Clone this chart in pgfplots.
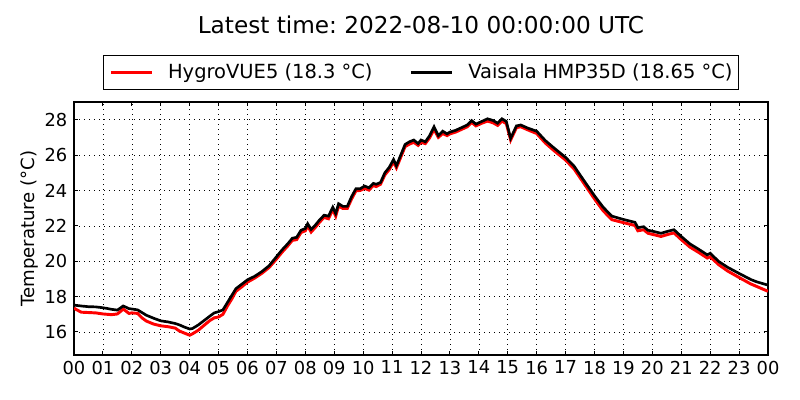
\documentclass[border=0pt]{standalone}
\usepackage{fontspec}
\setmainfont{DejaVu Sans}
\usepackage{pgfplots}
\pgfplotsset{compat=1.18}
\frenchspacing
\begin{document}
\begin{tikzpicture}
\useasboundingbox (0,0) rectangle (600pt,300pt);
\begin{axis}[
  at={(55.5pt,33.75pt)}, anchor=south west,
  width=520.5pt, height=189.75pt, scale only axis,
  xmin=0, xmax=24, ymin=14.7, ymax=29,
  xtick={0,1,...,24},
  xticklabels={00,01,02,03,04,05,06,07,08,09,10,11,12,13,14,15,16,17,18,19,20,21,22,23,00},
  ytick={16,18,20,22,24,26,28},
  /pgf/number format/assume math mode=true,
  tick label style={font=\fontsize{13.4}{16}\selectfont},
  yticklabel style={xshift=-1.5pt},
  xticklabel style={yshift=-0.8pt},
  tick align=inside, major tick length=3.2pt,
  tick style={black, line width=0.75pt},
  axis line style={line width=0.9pt},
  grid=major,
  major grid style={black, line width=0.45pt, dash pattern=on 0.9pt off 2.85pt},
  title={Latest time: 2022-08-10 00:00:00 UTC},
  title style={at={(0.5,1)}, anchor=base, yshift=45.2pt, font=\fontsize{17.4}{20}\selectfont\frenchspacing},
  ylabel={Temperature (°C)},
  ylabel style={at={(axis description cs:-0.0576,0.5)}, anchor=base, font=\fontsize{13.6}{16}\selectfont},
  legend columns=2,
  legend style={at={(0.5,1)}, anchor=south, yshift=9pt, draw=black, line width=0.75pt,
    font=\fontsize{14.6}{17}\selectfont, inner xsep=4.5pt, inner ysep=2.5pt,
    nodes={inner xsep=0pt, inner ysep=4.1pt},
    /tikz/every odd column/.append style={column sep=11.25pt},
    /tikz/every even column/.append style={column sep=27.75pt}},
  legend image code/.code={\draw[#1, line width=2pt] (0pt,0pt) -- (30.75pt,0pt);},
]
\addplot[red, line width=2.2pt] coordinates {
(0,17.35) (0.1,17.25) (0.25,17.12) (0.5,17.10) (0.75,17.08) (1.0,17.02) (1.15,17.00) (1.3,16.98) (1.5,17.02) (1.6,17.15) (1.7,17.30) (1.8,17.18) (1.9,17.05) (2.0,17.08) (2.2,17.05) (2.35,16.80) (2.5,16.62) (2.75,16.45) (3.0,16.35) (3.25,16.30) (3.5,16.22) (3.65,16.05) (3.8,15.95) (4.0,15.82) (4.1,15.90) (4.3,16.10) (4.5,16.38) (4.7,16.65) (4.85,16.80) (5.0,16.85) (5.15,17.00) (5.3,17.45) (5.45,17.85) (5.6,18.30) (5.8,18.55) (6.0,18.82) (6.25,19.05) (6.5,19.32) (6.75,19.65) (7.0,20.12) (7.2,20.52) (7.4,20.88) (7.55,21.18) (7.7,21.22) (7.85,21.62) (8.0,21.72) (8.08,22.00) (8.2,21.65) (8.35,21.92) (8.5,22.22) (8.65,22.48) (8.8,22.40) (8.95,22.92) (9.05,22.55) (9.15,23.12) (9.3,22.98) (9.45,22.98) (9.6,23.52) (9.75,23.98) (9.9,24.00) (10.05,24.12) (10.2,24.02) (10.35,24.28) (10.45,24.22) (10.6,24.35) (10.75,24.88) (10.9,25.18) (11.05,25.62) (11.15,25.28) (11.3,25.88) (11.45,26.48) (11.6,26.62) (11.75,26.72) (11.9,26.55) (12.0,26.72) (12.15,26.65) (12.3,26.98) (12.45,27.45) (12.6,27.00) (12.75,27.22) (12.9,27.10) (13.0,27.20) (13.2,27.30) (13.4,27.45) (13.6,27.60) (13.75,27.85) (13.9,27.65) (14.1,27.80) (14.3,27.92) (14.5,27.82) (14.65,27.68) (14.8,27.92) (14.95,27.78) (15.1,26.85) (15.3,27.55) (15.45,27.60) (15.7,27.42) (16.0,27.22) (16.3,26.68) (16.6,26.25) (17.0,25.72) (17.3,25.20) (17.6,24.48) (18.0,23.52) (18.3,22.85) (18.6,22.35) (19.0,22.18) (19.4,22.02) (19.5,21.72) (19.7,21.78) (19.85,21.58) (20.0,21.52) (20.3,21.40) (20.55,21.52) (20.75,21.60) (21.0,21.22) (21.3,20.80) (21.6,20.50) (21.9,20.18) (22.0,20.25) (22.3,19.80) (22.6,19.45) (23.0,19.08) (23.4,18.72) (23.6,18.58) (24.0,18.30)
};
\addlegendentry{HygroVUE5 (18.3 °C)}
\addplot[black, line width=2pt] coordinates {
(0,17.52) (0.25,17.47) (0.5,17.43) (0.75,17.42) (1.0,17.37) (1.15,17.33) (1.3,17.28) (1.5,17.24) (1.6,17.35) (1.7,17.47) (1.8,17.40) (1.9,17.32) (2.0,17.30) (2.2,17.25) (2.35,17.10) (2.5,16.95) (2.75,16.78) (3.0,16.63) (3.25,16.57) (3.5,16.48) (3.65,16.40) (3.8,16.29) (4.0,16.17) (4.1,16.20) (4.3,16.40) (4.5,16.65) (4.7,16.90) (4.85,17.08) (5.0,17.15) (5.15,17.25) (5.3,17.65) (5.45,18.05) (5.6,18.45) (5.8,18.70) (6.0,18.95) (6.25,19.15) (6.5,19.42) (6.75,19.75) (7.0,20.25) (7.2,20.65) (7.4,21.00) (7.55,21.30) (7.7,21.35) (7.85,21.75) (8.0,21.85) (8.08,22.12) (8.2,21.80) (8.35,22.05) (8.5,22.35) (8.65,22.60) (8.8,22.55) (8.95,23.05) (9.05,22.70) (9.15,23.25) (9.3,23.10) (9.45,23.10) (9.6,23.65) (9.75,24.10) (9.9,24.10) (10.05,24.25) (10.2,24.15) (10.35,24.40) (10.45,24.35) (10.6,24.45) (10.75,25.00) (10.9,25.30) (11.05,25.75) (11.15,25.40) (11.3,26.00) (11.45,26.60) (11.6,26.75) (11.75,26.85) (11.9,26.65) (12.0,26.85) (12.15,26.75) (12.3,27.10) (12.45,27.60) (12.6,27.10) (12.75,27.35) (12.9,27.20) (13.0,27.30) (13.2,27.40) (13.4,27.55) (13.6,27.70) (13.75,27.95) (13.9,27.75) (14.1,27.90) (14.3,28.05) (14.5,27.95) (14.65,27.80) (14.8,28.05) (14.95,27.90) (15.1,26.95) (15.3,27.65) (15.45,27.70) (15.7,27.52) (16.0,27.35) (16.3,26.82) (16.6,26.40) (17.0,25.87) (17.3,25.36) (17.6,24.64) (18.0,23.70) (18.3,23.05) (18.6,22.55) (19.0,22.36) (19.4,22.20) (19.5,21.90) (19.7,21.95) (19.85,21.75) (20.0,21.70) (20.3,21.58) (20.55,21.70) (20.75,21.78) (21.0,21.40) (21.3,20.98) (21.6,20.68) (21.9,20.36) (22.0,20.45) (22.3,19.98) (22.6,19.66) (23.0,19.31) (23.4,18.97) (23.6,18.84) (24.0,18.65)
};
\addlegendentry{Vaisala HMP35D (18.65 °C)}
\end{axis}
\end{tikzpicture}
\end{document}
